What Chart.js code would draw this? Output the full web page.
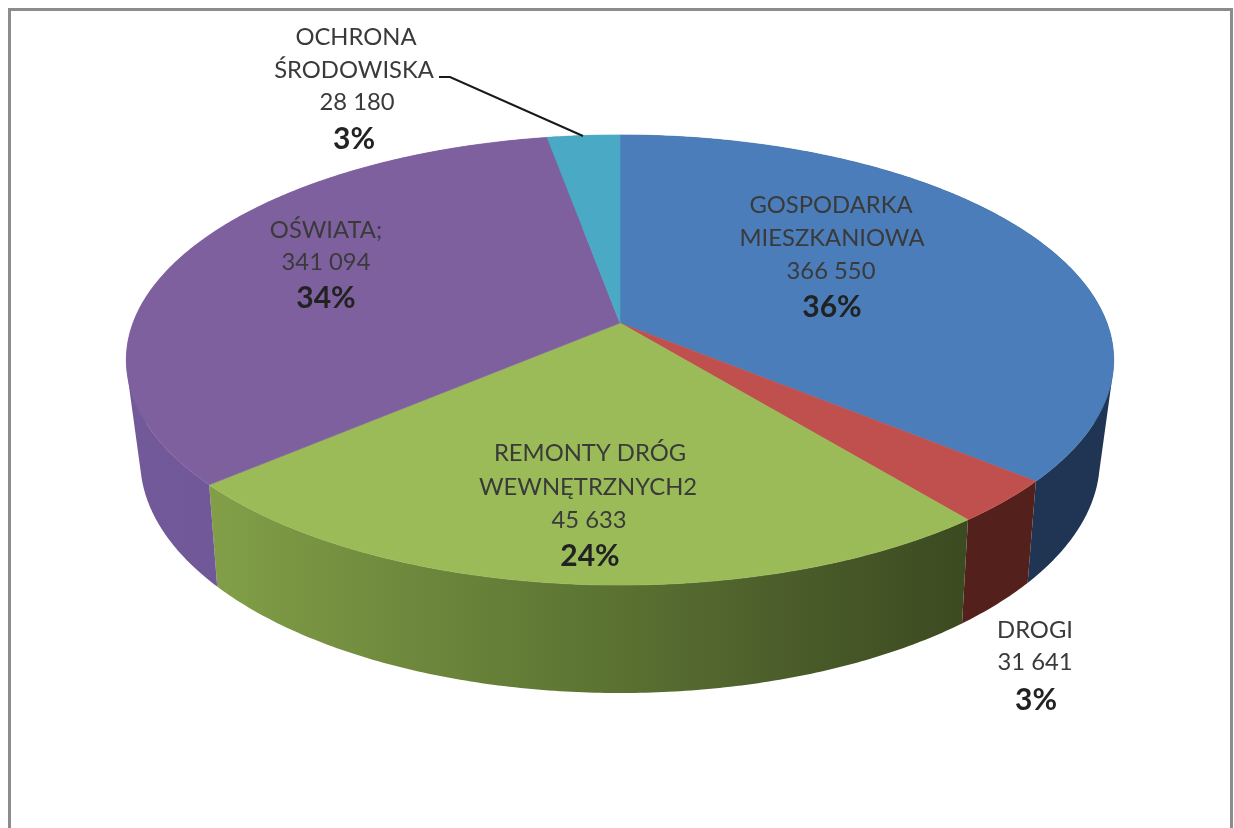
<!DOCTYPE html>
<html>
<head>
<meta charset="utf-8">
<title>Wydatki</title>
<script src="https://cdn.jsdelivr.net/npm/chart.js@4"></script>
<style>
    html, body { margin: 0; padding: 0; background: #fff; overflow: hidden; }
    canvas { display: block; }
</style>
</head>
<body>
<canvas id="myChart" width="1234" height="828"></canvas>
<script>
const categories = ['GOSPODARKA MIESZKANIOWA', 'DROGI', 'REMONTY DRÓG WEWNĘTRZNYCH2', 'OŚWIATA', 'OCHRONA ŚRODOWISKA'];
// the label on the green slice is cut to "45 633", its size only fits 245 633
const values = [366550, 31641, 245633, 341094, 28180];
const topColors = ['#4a7dba', '#c0504d', '#9bbb59', '#7f609f', '#4aa9c5'];
const wallColors = [
    ['#1f3553', '#1f3553'],
    ['#54201c', '#54201c'],
    ['#829f48', '#6f8a3d', '#5d7533', '#4c5e2b', '#3c4a20'],
    ['#72599a', '#6b5290'],
    ['#3a8296', '#3a8296']
];

// one entry per text line: text, centre x, centre y, bold
const labelLines = [
    ['GOSPODARKA', 831, 205, false],
    ['MIESZKANIOWA', 832, 238, false],
    ['366 550', 831, 271, false],
    ['36%', 832, 307, true],
    ['OŚWIATA;', 326, 230, false],
    ['341 094', 326, 262, false],
    ['34%', 326, 298, true],
    ['REMONTY DRÓG', 590, 453, false],
    ['WEWNĘTRZNYCH2', 588, 487, false],
    ['45 633', 589, 520, false],
    ['24%', 590, 556, true],
    ['DROGI', 1035, 630, false],
    ['31 641', 1035, 662, false],
    ['3%', 1036, 700, true],
    ['OCHRONA', 356, 37, false],
    ['ŚRODOWISKA', 354, 70, false],
    ['28 180', 357, 102, false],
    ['3%', 354, 139, true]
];

// perspective of the two faces, k is the foreshortening
const topDisc = { cx: 620, cy: 323, rx: 487, ry: 219, k: 0.1644 };
const bottomDisc = { cx: 620, cy: 418, rx: 472, ry: 225.5, k: 0.18 };

function project(disc, angle) {
    const u = Math.cos(angle);
    const v = Math.sin(angle);
    const w = 1 - disc.k * v;
    return [disc.cx + disc.rx * u / w, disc.cy + disc.ry * v / w];
}

function rim(disc, start, end) {
    const points = [];
    const steps = Math.max(2, Math.ceil((end - start) / 0.01));
    for (let i = 0; i <= steps; i++) {
        points.push(project(disc, start + (end - start) * i / steps));
    }
    return points;
}

function tracePolygon(ctx, points) {
    ctx.beginPath();
    points.forEach((p, i) => {
        if (i === 0) ctx.moveTo(p[0], p[1]);
        else ctx.lineTo(p[0], p[1]);
    });
    ctx.closePath();
}

function signedArea(points) {
    let area = 0;
    points.forEach((p, i) => {
        const q = points[(i + 1) % points.length];
        area += p[0] * q[1] - q[0] * p[1];
    });
    return area;
}

function drawWall(ctx, arc, index) {
    const top = rim(topDisc, arc.startAngle, arc.endAngle);
    const bottom = rim(bottomDisc, arc.startAngle, arc.endAngle);
    const xs = top.map(p => p[0]);
    const stops = wallColors[index];
    const gradient = ctx.createLinearGradient(Math.min(...xs), 0, Math.max(...xs), 0);
    stops.forEach((c, i) => gradient.addColorStop(i / (stops.length - 1), c));

    // one quad per step, all wound the same way so that overlaps don't cancel out
    ctx.beginPath();
    for (let i = 0; i < top.length - 1; i++) {
        const quad = [top[i], top[i + 1], bottom[i + 1], bottom[i]];
        if (signedArea(quad) < 0) quad.reverse();
        quad.forEach((p, j) => {
            if (j === 0) ctx.moveTo(p[0], p[1]);
            else ctx.lineTo(p[0], p[1]);
        });
        ctx.closePath();
    }
    ctx.fillStyle = gradient;
    ctx.fill();
}

function drawTop(ctx, arc) {
    const points = [[topDisc.cx, topDisc.cy]].concat(rim(topDisc, arc.startAngle, arc.endAngle));
    tracePolygon(ctx, points);
    ctx.fillStyle = arc.options.backgroundColor;
    ctx.strokeStyle = arc.options.backgroundColor;
    ctx.lineWidth = 0.6;
    ctx.fill();
    ctx.stroke();
}

function drawText(ctx, text, x, y, bold) {
    ctx.font = bold ? 'bold 30px Lato' : '23.8px Lato';
    ctx.fillStyle = bold ? '#222' : '#3a3a3a';
    ctx.fillText(text, x, y);
}

// Chart.js has no 3D pie, so the arcs it laid out are drawn tilted here
const tiltedPie = {
    id: 'tiltedPie',
    beforeDatasetDraw(chart) {
        const ctx = chart.ctx;
        const arcs = chart.getDatasetMeta(0).data;
        ctx.save();
        arcs.forEach((arc, i) => drawWall(ctx, arc, i));
        arcs.forEach(arc => drawTop(ctx, arc));
        ctx.restore();
        return false;
    },
    afterDraw(chart) {
        const ctx = chart.ctx;
        ctx.save();

        // frame, its bottom edge is cut off by the picture
        ctx.strokeStyle = '#8c8c8c';
        ctx.lineWidth = 3;
        ctx.strokeRect(9.5, 9.5, 1222, 900);

        // leader line of the small teal slice
        ctx.strokeStyle = '#1a1a1a';
        ctx.lineWidth = 2;
        ctx.beginPath();
        ctx.moveTo(439, 77);
        ctx.lineTo(450, 77);
        ctx.lineTo(583, 136);
        ctx.stroke();

        ctx.textAlign = 'center';
        ctx.textBaseline = 'middle';
        labelLines.forEach(l => drawText(ctx, l[0], l[1], l[2], l[3]));
        ctx.restore();
    }
};

new Chart(document.getElementById('myChart').getContext('2d'), {
    type: 'pie',
    data: {
        labels: categories,
        datasets: [{
            data: values,
            backgroundColor: topColors,
            borderWidth: 0
        }]
    },
    options: {
        responsive: false,
        animation: false,
        plugins: {
            legend: { display: false },
            tooltip: { enabled: false }
        }
    },
    plugins: [tiltedPie]
});
</script>
</body>
</html>
